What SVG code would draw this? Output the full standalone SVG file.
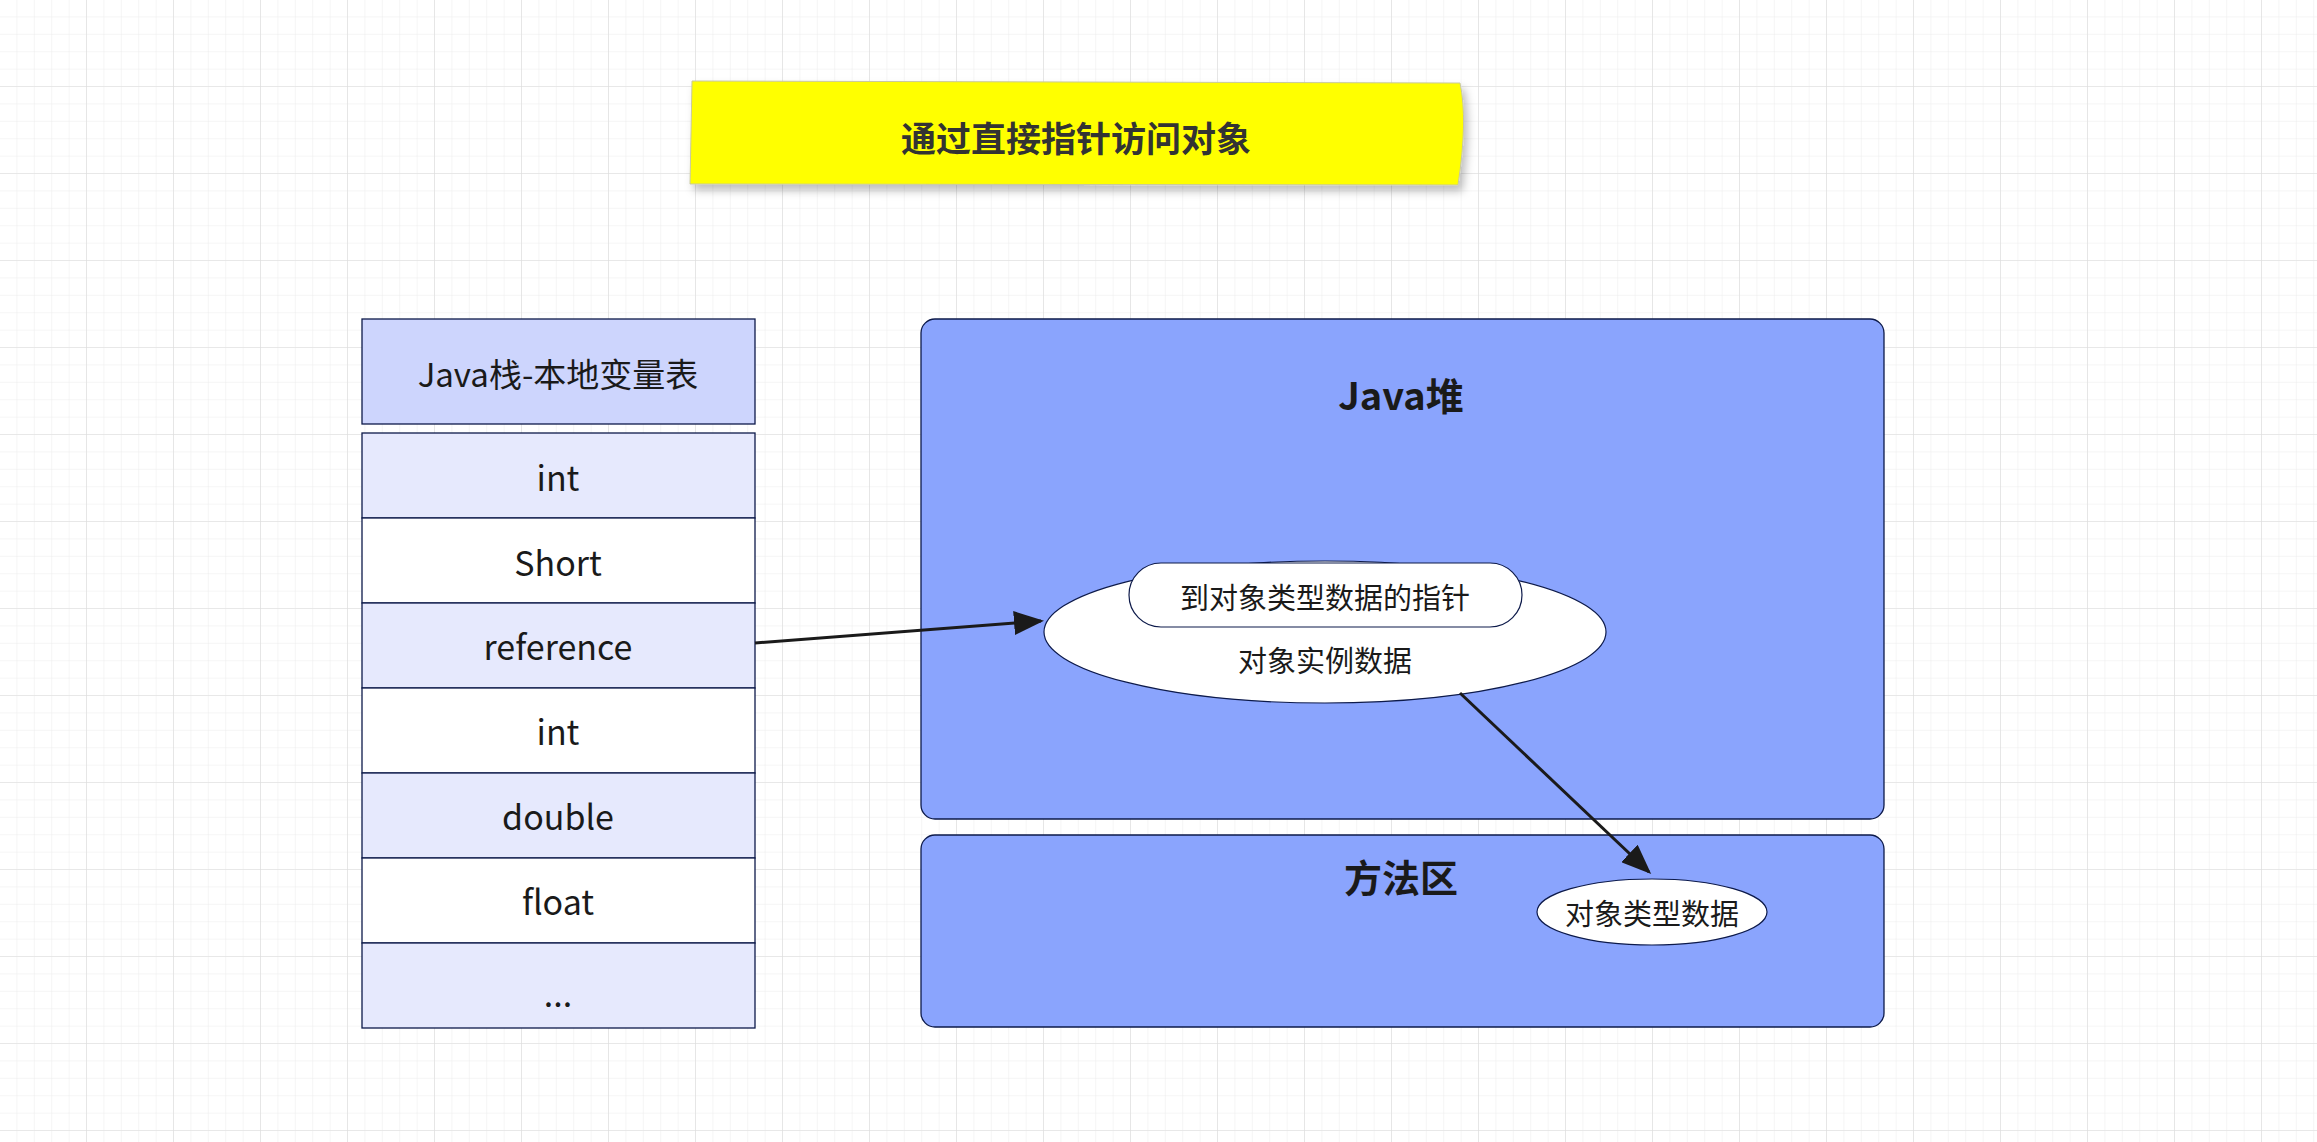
<svg xmlns="http://www.w3.org/2000/svg" width="2317" height="1142" viewBox="0 0 2317 1142">
<defs>
<pattern id="minor" width="17.4" height="17.4" patternUnits="userSpaceOnUse"><path d="M17.4 0V17.4H0" fill="none" stroke="#ececec" stroke-width="1"/></pattern>
<pattern id="major" width="87" height="87" patternUnits="userSpaceOnUse"><rect width="87" height="87" fill="url(#minor)"/><path d="M87 0V87H0" fill="none" stroke="#dcdcdc" stroke-width="1.2"/></pattern>
<marker id="arr" markerWidth="10" markerHeight="8" refX="9" refY="4" orient="auto" markerUnits="strokeWidth"><path d="M0 0L10 4L0 8z" fill="#1a1a1a"/></marker>
<filter id="sh" x="-5%" y="-10%" width="115%" height="140%"><feDropShadow dx="4" dy="6" stdDeviation="4" flood-color="#000" flood-opacity="0.25"/></filter>
</defs>
<style>
text{font-family:"Noto Sans CJK SC","Liberation Sans",sans-serif;fill:#1a1a1a;text-anchor:middle;dominant-baseline:central}
.row{stroke:#0d1a4a;stroke-width:1.3}
.r{font-size:34px}
.area{fill:#8aa4fd;stroke:#0d1a4a;stroke-width:1.3}
.b{font-weight:bold;font-size:38px}
.w{fill:#fff;stroke:#0d1a4a;stroke-width:1.2}
.c{font-size:29px}
</style>
<rect width="2317" height="1142" fill="#fff"/>
<rect width="2317" height="1142" fill="url(#major)"/>
<g id="title"><path d="M692 81L1460 83Q1468 120 1458 185L690 184Z" fill="#ffff00" stroke="#c8c8a0" stroke-width="1" filter="url(#sh)"/><text x="1076" y="136" style="font-size:35px;font-weight:bold;fill:#333">通过直接指针访问对象</text></g>
<g id="stack">
<rect class="row" x="362" y="319" width="393" height="105" fill="#cdd5fd"/><text class="r" x="558" y="373" style="font-size:33px">Java栈-本地变量表</text>
<rect class="row" x="362" y="433" width="393" height="85" fill="#e6e9fd"/><text class="r" x="558" y="476">int</text>
<rect class="row" x="362" y="518" width="393" height="85" fill="#fff"/><text class="r" x="558" y="561">Short</text>
<rect class="row" x="362" y="603" width="393" height="85" fill="#e6e9fd"/><text class="r" x="558" y="645">reference</text>
<rect class="row" x="362" y="688" width="393" height="85" fill="#fff"/><text class="r" x="558" y="730">int</text>
<rect class="row" x="362" y="773" width="393" height="85" fill="#e6e9fd"/><text class="r" x="558" y="815">double</text>
<rect class="row" x="362" y="858" width="393" height="85" fill="#fff"/><text class="r" x="558" y="900">float</text>
<rect class="row" x="362" y="943" width="393" height="85" fill="#e6e9fd"/><text class="r" x="558" y="992">...</text>
</g>
<g id="heap"><rect class="area" x="921" y="319" width="963" height="500" rx="14"/><text class="b" x="1401" y="393">Java堆</text></g>
<g id="method"><rect class="area" x="921" y="835" width="963" height="192" rx="14"/><text class="b" x="1401" y="875">方法区</text></g>
<g id="obj"><ellipse class="w" cx="1325" cy="632" rx="281" ry="71"/><rect class="w" x="1129" y="563" width="393" height="64" rx="32"/><text class="c" x="1325" y="596">到对象类型数据的指针</text><text class="c" x="1325" y="659">对象实例数据</text></g>
<g id="type"><ellipse class="w" cx="1652" cy="912" rx="115" ry="33"/><text class="c" x="1652" y="912">对象类型数据</text></g>
<g id="connectors" stroke="#1a1a1a" stroke-width="3" fill="none">
<line x1="755" y1="643" x2="1041" y2="621" marker-end="url(#arr)"/>
<line x1="1460" y1="693" x2="1649" y2="872" marker-end="url(#arr)"/>
</g>
</svg>
